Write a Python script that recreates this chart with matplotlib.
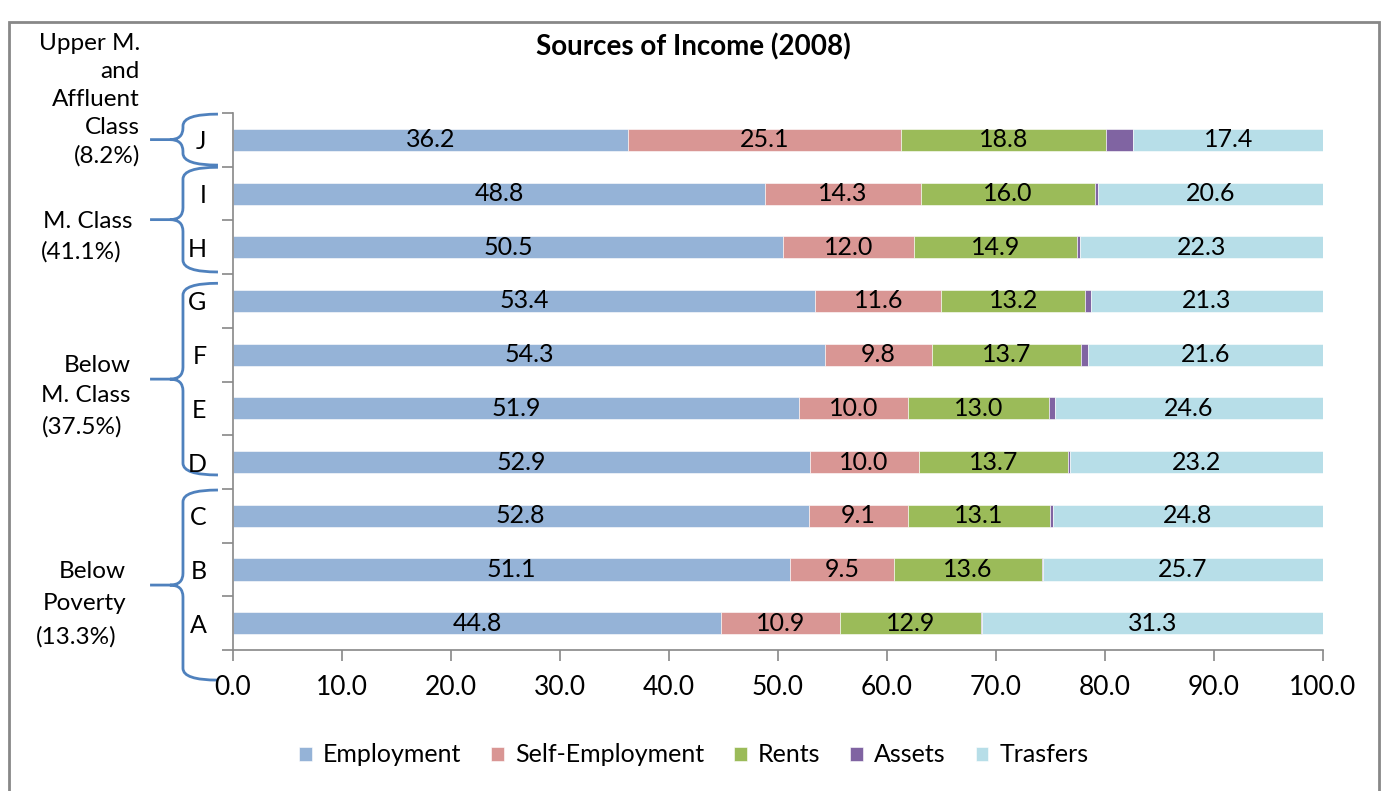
import matplotlib.pyplot as plt
import numpy as np
from matplotlib.path import Path
from matplotlib.patches import PathPatch, Rectangle
from matplotlib.transforms import blended_transform_factory, Affine2D

plt.rcParams['font.family'] = ['Lato', 'DejaVu Sans']

# data, bottom (A) to top (J)
groups = ['A', 'B', 'C', 'D', 'E', 'F', 'G', 'H', 'I', 'J']
employment = [44.8, 51.1, 52.8, 52.9, 51.9, 54.3, 53.4, 50.5, 48.8, 36.2]
self_employment = [10.9, 9.5, 9.1, 10.0, 10.0, 9.8, 11.6, 12.0, 14.3, 25.1]
rents = [12.9, 13.6, 13.1, 13.7, 13.0, 13.7, 13.2, 14.9, 16.0, 18.8]
assets = [0.1, 0.1, 0.2, 0.2, 0.5, 0.6, 0.5, 0.3, 0.3, 2.5]
trasfers = [31.3, 25.7, 24.8, 23.2, 24.6, 21.6, 21.3, 22.3, 20.6, 17.4]
series_names = ['Employment', 'Self-Employment', 'Rents', 'Assets', 'Trasfers']
colors = ['#95B3D7', '#D99694', '#9BBB59', '#8064A2', '#B7DEE8']

# class brackets (label lines)
class_lines = [
    ['Upper M.', 'and', 'Affluent', 'Class', '(8.2%)'],
    ['M. Class', '(41.1%)'],
    ['Below', 'M. Class', '(37.5%)'],
    ['Below', 'Poverty', '(13.3%)'],
]

FS = 18
fig = plt.figure(figsize=(13.82, 7.91), dpi=100)
ax = fig.add_axes([0.1686, 0.1782, 0.7887, 0.6789])

y = np.arange(len(groups))
left = np.zeros(len(groups))
data = [employment, self_employment, rents, assets, trasfers]
for name, vals, c in zip(series_names, data, colors):
    vals = np.array(vals)
    ax.barh(y, vals, left=left, height=0.41, color=c, label=name,
            edgecolor='white', linewidth=0.4)
    if name != 'Assets':
        for yi, l, v in zip(y, left, vals):
            ax.text(l + v / 2, yi, f'{v:.1f}', ha='center', va='center',
                    fontsize=FS, color='black')
    left = left + vals

ax.set_xlim(0, 100)
ax.set_ylim(-0.5, len(groups) - 0.5)
ax.set_xticks(np.arange(0, 101, 10))
ax.set_xticklabels([f'{v:.1f}' for v in np.arange(0, 101, 10)], fontsize=FS + 1)
ax.set_yticks(np.arange(-0.5, len(groups), 1))
ax.set_yticklabels([])
ax.set_yticks(y, minor=True)
ax.set_yticklabels(groups, minor=True, fontsize=FS)
ax.tick_params(axis='y', which='minor', length=0, pad=19)
ax.tick_params(axis='y', which='major', length=8, color='#888888', width=1.2)
ax.tick_params(axis='x', length=8, color='#888888', width=1.2, pad=10)
for s in ['top', 'right']:
    ax.spines[s].set_visible(False)
for s in ['left', 'bottom']:
    ax.spines[s].set_color('#888888')
    ax.spines[s].set_linewidth(1.2)

fig.text(0.502, 1 - 47 / 791, 'Sources of Income (2008)', fontsize=FS + 2,
         fontweight='bold', ha='center', va='center')

leg = ax.legend(loc='center', ncol=5, frameon=False, fontsize=FS,
                handlelength=0.5, handleheight=0.5, handletextpad=0.45,
                columnspacing=1.2)
leg.set_bbox_to_anchor((0.502, 1 - 755 / 791), transform=fig.transFigure)

# curly brackets on the left
tr = blended_transform_factory(ax.transAxes, ax.transData)
brackets = [(9.48, 8.53), (8.49, 6.54), (6.33, 2.76), (2.48, -1.06)]
xr, xv, xt = -0.0138, -0.0459, -0.0761
rx, ry = 0.012, 0.22
for yt, yb in brackets:
    ym = (yt + yb) / 2
    verts = [(xr, yt), (xv, yt), (xv, yt - ry),
             (xv, ym + ry),
             (xv, ym), (xv - rx, ym),
             (xt, ym),
             (xv - rx, ym),
             (xv, ym), (xv, ym - ry),
             (xv, yb + ry),
             (xv, yb), (xr, yb)]
    codes = [Path.MOVETO, Path.CURVE3, Path.CURVE3,
             Path.LINETO,
             Path.CURVE3, Path.CURVE3,
             Path.LINETO,
             Path.MOVETO,
             Path.CURVE3, Path.CURVE3,
             Path.LINETO,
             Path.CURVE3, Path.CURVE3]
    ax.add_patch(PathPatch(Path(verts, codes), transform=tr, fill=False,
                           edgecolor='#4F81BD', linewidth=2, clip_on=False))

# class labels, placed in figure pixels (from top-left)
px = Affine2D().scale(1 / 1382, -1 / 791).translate(0, 1) + fig.transFigure
label_pos = [
    [(140, 44), (140, 72), (140, 100), (140, 128), (140, 156)],
    [(133, 221), (122, 252)],
    [(131, 366), (131, 396), (122, 427)],
    [(126, 572), (126, 604), (117, 637)],
]
for lines, pos in zip(class_lines, label_pos):
    for txt, (xp, yp) in zip(lines, pos):
        fig.text(xp, yp, txt, transform=px, ha='right', va='center', fontsize=FS - 0.5)

fig.patches.append(Rectangle((0.0065, -0.01), 0.9915, 0.9825, transform=fig.transFigure,
                             fill=False, edgecolor='#888888', linewidth=2))

fig.savefig('out.png', dpi=100)
